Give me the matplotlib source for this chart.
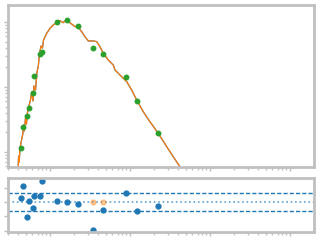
import matplotlib
matplotlib.use("Agg")
import matplotlib.pyplot as plt

# observed photometry (main panel)
obs_x = [0.430, 0.464, 0.520, 0.551, 0.618, 0.637, 0.750, 0.788,
         1.234, 1.645, 2.22, 3.42, 4.64, 8.99, 12.34, 22.6]
obs_y = [0.0114, 0.0240, 0.0354, 0.0470, 0.0800, 0.146, 0.318, 0.349,
         0.989, 1.073, 0.868, 0.394, 0.318, 0.141, 0.0603, 0.0194]

# residuals (lower panel)
res_y = [0.255, 1.103, -1.055, 0.048, -0.434, 0.414, 0.414, 1.448,
         0.048, -0.021, -0.138, -1.952, -0.572, 0.621, -0.641, -0.276]
flag_x = [3.42, 4.64]
flag_y = [0.0, 0.0]

# model curve
model_x = [0.396, 0.405, 0.412, 0.422, 0.441, 0.457, 0.467, 0.478, 0.494,
           0.508, 0.524, 0.546, 0.570, 0.590, 0.613, 0.631, 0.659, 0.688,
           0.715, 0.735, 0.772, 0.805, 0.830, 0.910, 1.0, 1.099, 1.213,
           1.334, 1.466, 1.618, 1.694, 1.866, 2.054, 2.193, 2.489, 2.738,
           3.013, 3.475, 3.837, 4.217, 4.634, 5.358, 6.180, 6.494, 7.499,
           9.099, 10.50, 12.13, 14.66, 17.78, 22.59, 28.77, 34.75, 42.17, 50.12]
model_y = [0.00371, 0.00867, 0.00702, 0.01153, 0.01531, 0.01892, 0.02600,
           0.02104, 0.03334, 0.02698, 0.04121, 0.05105, 0.0631, 0.0838,
           0.0610, 0.1035, 0.0899, 0.1702, 0.2104, 0.3105, 0.4276, 0.398,
           0.528, 0.670, 0.800, 0.900, 0.975, 1.047, 0.975, 1.102, 1.012,
           0.931, 0.847, 0.867, 0.710, 0.594, 0.511, 0.511, 0.498, 0.417,
           0.330, 0.260, 0.218, 0.183, 0.153, 0.121, 0.0899, 0.0631, 0.0417,
           0.0292, 0.0194, 0.0121, 0.00847, 0.00594, 0.00412]

spine_col = "#c0c0c0"

fig = plt.figure(figsize=(3.2, 2.4), dpi=100)
ax = fig.add_axes([0.025, 0.3054, 0.955, 0.6717])
axr = fig.add_axes([0.025, 0.0346, 0.955, 0.225], sharex=ax)

ax.plot(model_x, model_y, color="#1f77b4", lw=0.9)
ax.plot(model_x, model_y, color="#ff7f0e", lw=0.9)
ax.plot(obs_x, obs_y, "o", color="#2ca02c", ms=3.2, ls="none")
ax.set_xscale("log")
ax.set_yscale("log")
ax.set_xlim(0.2985, 1978)
ax.set_ylim(0.00594, 1.794)

axr.axhline(0.6, color="#1f77b4", ls="--", lw=1.0, dashes=(3, 1.5))
axr.axhline(-0.6, color="#1f77b4", ls="--", lw=1.0, dashes=(3, 1.5))
axr.axhline(0.0, color="#5fa2d0", ls=":", lw=1.2)
axr.plot(flag_x, flag_y, "o", color="#ff7f0e", alpha=0.4, ms=3.5, ls="none")
axr.plot(obs_x, res_y, "o", color="#1f77b4", ms=3.5, ls="none")
axr.set_ylim(-2.05, 1.68)
axr.set_yticks([1, 0, -1, -2])

for a in (ax, axr):
    for s in a.spines.values():
        s.set_color(spine_col)
        s.set_linewidth(2)
    a.tick_params(which="both", colors=spine_col, labelleft=False,
                  labelbottom=False)
    a.tick_params(which="major", length=3, width=1)
    a.tick_params(which="minor", length=2, width=1)

fig.savefig("out.png", dpi=100)
